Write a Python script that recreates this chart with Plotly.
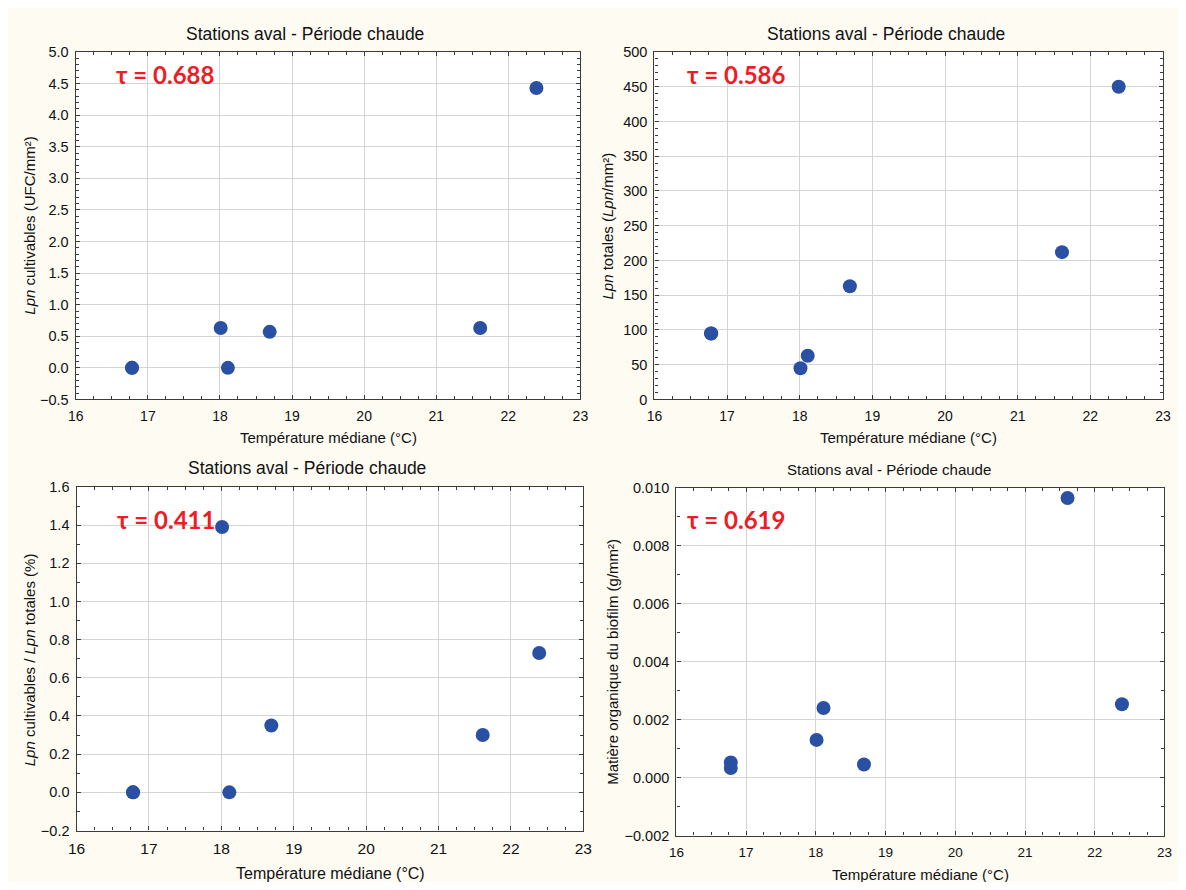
import plotly.graph_objects as go

# ---- data ----
temperature = [16.78, 16.78, 18.01, 18.11, 18.69, 21.61, 22.39]
lpn_cultivables = [0.0, 0.0, 0.63, 0.0, 0.57, 0.63, 4.43]
lpn_totales = [95, 95, 45, 63, 163, 212, 450]
ratio_pct = [0.0, 0.0, 1.39, 0.0, 0.35, 0.30, 0.73]
matiere_org = [0.00052, 0.00033, 0.0013, 0.0024, 0.00045, 0.00965, 0.00253]
taus = ["τ = 0.688", "τ = 0.586", "τ = 0.411", "τ = 0.619"]
panel_title = "Stations aval - Période chaude"
x_title = "Température médiane (°C)"
y_titles = [
    "<i>Lpn</i> cultivables (UFC/mm²)",
    "<i>Lpn</i> totales (<i>Lpn</i>/mm²)",
    "<i>Lpn</i> cultivables / <i>Lpn</i> totales (%)",
    "Matière organique du biofilm (g/mm²)",
]
series = [lpn_cultivables, lpn_totales, ratio_pct, matiere_org]

OFF = 8  # page body margin
W, H = 1186 - 2 * OFF, 890 - 2 * OFF


def px(x):
    return (x - OFF) / W


def py(y):
    return 1 - (y - OFF) / H


# plot areas in screen pixels: (left, right, top, bottom)
boxes = [(67.7, 580.2, 44.7, 398.6),
         (655.4, 1171.9, 44.7, 398.6),
         (68.5, 583.2, 487.7, 837.7),
         (677.7, 1173.4, 488.7, 842.8)]
yranges = [(-0.5, 5.0), (0, 500), (-0.2, 1.6), (-0.002, 0.010)]
ydticks = [0.5, 50, 0.2, 0.002]
yminor = [0.1, 10, 0.1, 0.001]
ytickformat = [".1f", "d", ".1f", ".3f"]
xtick_sizes = [14, 14, 15.5, 13.5]
ytick_sizes = [14.5, 14.5, 14.5, 14.5]
title_pos = [(300.4, 26), (890.5, 26), (302.5, 468.3), (894, 470)]
title_sizes = [17.5, 17.5, 17.5, 15]
xtitle_pos = [(324.3, 437.7), (913.8, 437.7), (325.9, 881.7), (925.4, 882.7)]
xtitle_sizes = [15, 15, 16, 15]
ytitle_pos = [(21, 221.8), (608, 221.7), (20.1, 663.3), (613.4, 665.8)]
tau_pos = [(106.7, 67.5), (686.9, 67.5), (107.9, 520.7), (686.9, 520.7)]

font_family = "Liberation Sans, Arial, sans-serif"
marker_color = "#2A50A3"
axis_col = "#3C3C3C"

fig = go.Figure()
annotations = []
for i in range(4):
    l, r, t, b = boxes[i]
    xa = "x" if i == 0 else f"x{i+1}"
    ya = "y" if i == 0 else f"y{i+1}"
    fig.add_trace(go.Scatter(
        x=temperature, y=series[i], mode="markers",
        marker=dict(size=14, color=marker_color, line=dict(width=0)),
        xaxis=xa, yaxis=ya, showlegend=False, cliponaxis=False))
    common = dict(showgrid=True, gridcolor="#D4D4D4", gridwidth=1.3,
                  showline=True, linecolor=axis_col, linewidth=1.4,
                  mirror="ticks", ticks="inside", ticklen=4, tickcolor=axis_col,
                  zeroline=False, fixedrange=True)
    xkey = "xaxis" if i == 0 else f"xaxis{i+1}"
    ykey = "yaxis" if i == 0 else f"yaxis{i+1}"
    fig.update_layout(**{
        xkey: dict(domain=[px(l), px(r)], anchor=ya, range=[16, 23], dtick=1,
                   tick0=16, ticklabelstandoff=4,
                   tickfont=dict(family=font_family, size=xtick_sizes[i], color="#111"),
                   minor=dict(dtick=0.25, ticks="inside", ticklen=3,
                              tickcolor=axis_col, showgrid=False),
                   **common),
        ykey: dict(domain=[py(b), py(t)], anchor=xa,
                   range=list(yranges[i]), dtick=ydticks[i], tick0=0,
                   tickformat=ytickformat[i], ticklabelstandoff=3,
                   tickfont=dict(family=font_family, size=ytick_sizes[i], color="#111"),
                   minor=dict(dtick=yminor[i], ticks="inside", ticklen=3,
                              tickcolor=axis_col, showgrid=False),
                   **common),
    })
    tx, ty = title_pos[i]
    annotations.append(dict(text=panel_title, x=px(tx), y=py(ty),
                            xref="paper", yref="paper", showarrow=False,
                            xanchor="center", yanchor="middle",
                            font=dict(family=font_family, size=title_sizes[i], color="#111")))
    tx, ty = xtitle_pos[i]
    annotations.append(dict(text=x_title, x=px(tx), y=py(ty),
                            xref="paper", yref="paper", showarrow=False,
                            xanchor="center", yanchor="middle",
                            font=dict(family=font_family, size=xtitle_sizes[i], color="#111")))
    tx, ty = ytitle_pos[i]
    annotations.append(dict(text=y_titles[i], x=px(tx), y=py(ty),
                            xref="paper", yref="paper", showarrow=False, textangle=-90,
                            xanchor="center", yanchor="middle",
                            font=dict(family=font_family, size=15, color="#111")))
    tx, ty = tau_pos[i]
    annotations.append(dict(text=f"<b>{taus[i]}</b>", x=px(tx), y=py(ty),
                            xref="paper", yref="paper", showarrow=False,
                            xanchor="left", yanchor="middle",
                            font=dict(family="Lato, Open Sans, sans-serif", size=24,
                                      color="#EE1C25")))

fig.update_layout(width=W, height=H, margin=dict(l=0, r=0, t=0, b=0),
                  paper_bgcolor="#FDFBF2", plot_bgcolor="#FFFFFF",
                  annotations=annotations)
fig.write_html("out.html")
